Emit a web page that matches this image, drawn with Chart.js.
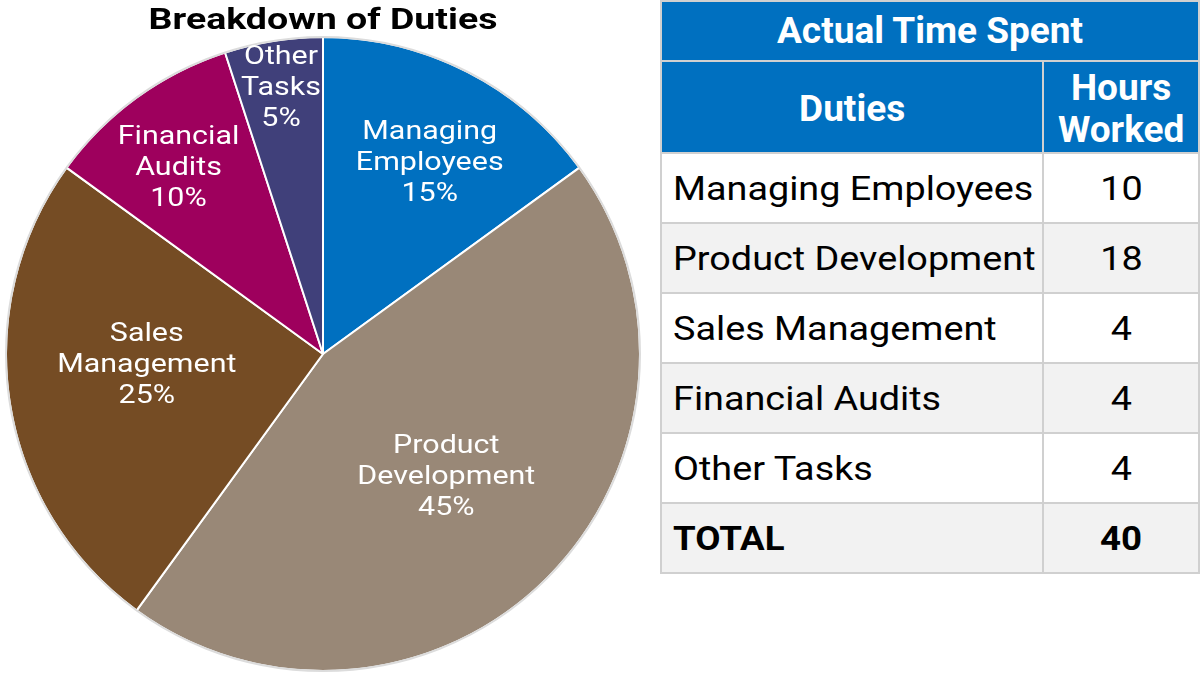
<!DOCTYPE html>
<html>
<head>
<meta charset="utf-8">
<script src="https://cdn.jsdelivr.net/npm/chart.js@4"></script>
<style>
  html, body { margin: 0; padding: 0; background: #fff; }
  body { width: 1200px; height: 675px; position: relative; overflow: hidden; font-family: Roboto, sans-serif; }
  #pieWrap { position: absolute; left: 0; top: 0; width: 646px; height: 675px; }
  #hoursTable {
    position: absolute; left: 660px; top: 0; width: 540px;
    border-collapse: collapse; font-family: Roboto, sans-serif;
  }
  #hoursTable td, #hoursTable th { border: 2px solid #d0d0d0; padding: 0; }
  #hoursTable th { background: #0070c0; color: #fff; font-weight: bold; font-size: 37px; line-height: 42px; }
  #hoursTable th.top { height: 58px; }
  #hoursTable th.sub { height: 86px; padding-top: 4px; }
  #hoursTable td { font-size: 33px; height: 68px; color: #000; }
  #hoursTable td.duty { padding-left: 11px; text-align: left; }
  #hoursTable td.hrs { text-align: center; }
  #hoursTable td span { display: inline-block; transform: scaleX(1.145); transform-origin: left center; }
  #hoursTable td.hrs span { transform-origin: center center; }
  #hoursTable tr.alt td { background: #f2f2f2; }
  #hoursTable tr.total td { font-weight: bold; }
  #hoursTable tr.total td span { transform: scaleX(1.11); }
</style>
</head>
<body>
<div id="pieWrap"><canvas id="piechart"></canvas></div>
<table id="hoursTable">
  <colgroup><col style="width:384px"><col style="width:156px"></colgroup>
  <thead>
    <tr><th class="top" colspan="2">Actual Time Spent</th></tr>
    <tr><th class="sub">Duties</th><th class="sub">Hours<br>Worked</th></tr>
  </thead>
  <tbody id="tbody"></tbody>
</table>
<script>
// pie data (percent)
var sliceLabels = [['Managing', 'Employees'], ['Product', 'Development'], ['Sales', 'Management'], ['Financial', 'Audits'], ['Other', 'Tasks']];
var slicePercents = [15, 45, 25, 10, 5];
var sliceColors = ['#0070c0', '#998877', '#754c24', '#9e005d', '#40407a'];

// table data
var duties = ['Managing Employees', 'Product Development', 'Sales Management', 'Financial Audits', 'Other Tasks'];
var hoursWorked = [10, 18, 4, 4, 4];
var totalHours = 40;

// label placement: fraction of radius + small angle nudge (degrees)
var labelRadius = [0.69, 0.55, 0.557, 0.742, 0.847];
var labelNudge = [2.2, 0, 5.4, -1.9, 0];

// build table rows
var tbody = document.getElementById('tbody');
duties.forEach(function(d, i) {
  var tr = document.createElement('tr');
  if (i % 2 == 1) tr.className = 'alt';
  tr.innerHTML = '<td class="duty"><span>' + d + '</span></td><td class="hrs"><span>' + hoursWorked[i] + '</span></td>';
  tbody.appendChild(tr);
});
var trTot = document.createElement('tr');
trTot.className = 'total alt';
trTot.innerHTML = '<td class="duty"><span>TOTAL</span></td><td class="hrs"><span>' + totalHours + '</span></td>';
tbody.appendChild(trTot);

// title, labels inside slices, light outline
var sliceText = {
  id: 'sliceText',
  afterDatasetsDraw: function(chart) {
    var ctx = chart.ctx;
    var meta = chart.getDatasetMeta(0);
    var a0 = meta.data[0];
    ctx.save();
    ctx.beginPath();
    ctx.arc(a0.x, a0.y, a0.outerRadius, 0, Math.PI * 2);
    ctx.strokeStyle = '#dcdcdc';
    ctx.lineWidth = 2;
    ctx.stroke();

    // title (the original is drawn a bit wide)
    ctx.fillStyle = '#000';
    ctx.font = 'bold 30px Roboto';
    ctx.textAlign = 'center';
    ctx.textBaseline = 'alphabetic';
    ctx.save();
    ctx.translate(a0.x, 29);
    ctx.scale(1.25, 1);
    ctx.fillText('Breakdown of Duties', 0, 0);
    ctx.restore();

    ctx.fillStyle = '#fff';
    ctx.font = '26px Roboto';
    ctx.textBaseline = 'middle';
    meta.data.forEach(function(arc, i) {
      var mid = (arc.startAngle + arc.endAngle) / 2 + labelNudge[i] * Math.PI / 180;
      var r = arc.outerRadius * labelRadius[i];
      var x = arc.x + Math.cos(mid) * r;
      var y = arc.y + Math.sin(mid) * r;
      var lines = sliceLabels[i].concat([slicePercents[i] + '%']);
      var lh = 31;
      lines.forEach(function(t, j) {
        ctx.save();
        ctx.translate(x, y + (j - (lines.length - 1) / 2) * lh);
        ctx.scale(1.17, 1);
        ctx.fillText(t, 0, 0);
        ctx.restore();
      });
    });
    ctx.restore();
  }
};

var ctx = document.getElementById('piechart').getContext('2d');
new Chart(ctx, {
  type: 'pie',
  data: {
    labels: sliceLabels.map(function(l) { return l.join(' '); }),
    datasets: [{
      data: slicePercents,
      backgroundColor: sliceColors,
      borderColor: '#ffffff',
      borderWidth: 2
    }]
  },
  options: {
    responsive: true,
    maintainAspectRatio: false,
    animation: false,
    layout: { padding: { left: 5, right: 5, top: 36, bottom: 3 } },
    plugins: {
      legend: { display: false },
      tooltip: { enabled: false },
      title: { display: false }
    }
  },
  plugins: [sliceText]
});
</script>
</body>
</html>
